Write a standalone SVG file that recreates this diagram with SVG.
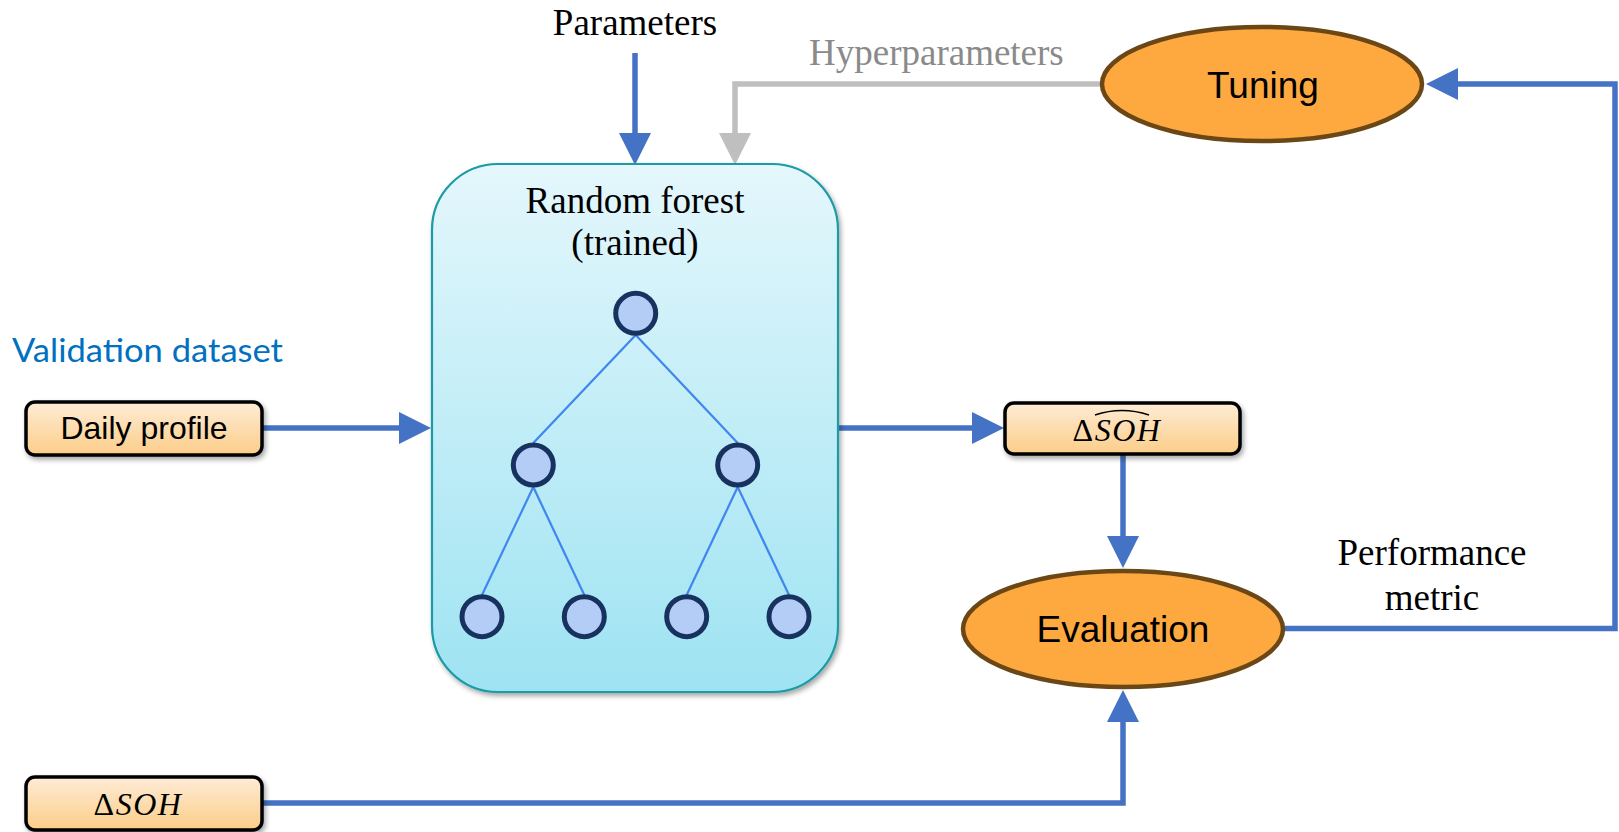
<svg xmlns="http://www.w3.org/2000/svg" width="1619" height="832" viewBox="0 0 1619 832">
  <defs>
    <linearGradient id="peach" x1="0" y1="0" x2="0" y2="1">
      <stop offset="0" stop-color="#feecd6"/>
      <stop offset="1" stop-color="#fccd88"/>
    </linearGradient>
    <linearGradient id="aqua" x1="0" y1="0" x2="0" y2="1">
      <stop offset="0" stop-color="#e4f7fc"/>
      <stop offset="1" stop-color="#9ee3f2"/>
    </linearGradient>
    <filter id="shadow" x="-10%" y="-10%" width="125%" height="135%">
      <feDropShadow dx="2" dy="3" stdDeviation="2.5" flood-color="#000" flood-opacity="0.35"/>
    </filter>
    <marker id="head-blue" markerUnits="userSpaceOnUse" markerWidth="33" markerHeight="33" refX="1" refY="16" orient="auto">
      <path d="M0,0 L32,16 L0,32 z" fill="#4472c4"/>
    </marker>
    <marker id="head-gray" markerUnits="userSpaceOnUse" markerWidth="33" markerHeight="33" refX="1" refY="16" orient="auto">
      <path d="M0,0 L32,16 L0,32 z" fill="#bfbfbf"/>
    </marker>
  </defs>
  <style>
    .serif { font-family: "Liberation Serif", "Times New Roman", serif; font-size: 37px; fill: #000; }
    .sans { font-family: "Liberation Sans", Arial, sans-serif; fill: #000; }
    .math { font-family: "Liberation Serif", "Times New Roman", serif; font-size: 32px; fill: #000; }
    .tag { fill: url(#peach); stroke: #000; stroke-width: 3.5; filter: url(#shadow); }
    .oval { fill: #fea940; stroke: #6b4716; stroke-width: 4.5; }
    .leaf { fill: #b3cdf6; stroke: #17325f; stroke-width: 5; }
    .branch { stroke: #3f86f0; stroke-width: 2.2; fill: none; }
    .wire { fill: none; stroke: #4472c4; stroke-width: 5.5; marker-end: url(#head-blue); }
    .wire-gray { fill: none; stroke: #bfbfbf; stroke-width: 5.5; marker-end: url(#head-gray); }
  </style>

  <rect width="1619" height="832" fill="#fff"/>

  <!-- free-standing labels -->
  <text id="label-parameters" class="serif" x="635" y="35" text-anchor="middle">Parameters</text>
  <text id="label-hyperparameters" class="serif" x="809" y="65" style="fill:#8a8a8a">Hyperparameters</text>
  <text id="label-validation" x="12" y="362" font-family="Lato, 'Open Sans', sans-serif" font-size="33" fill="#0070c0" textLength="271" lengthAdjust="spacingAndGlyphs">Validation dataset</text>
  <g id="label-performance" text-anchor="middle">
    <text class="serif" x="1432" y="565">Performance</text>
    <text class="serif" x="1432" y="610">metric</text>
  </g>

  <!-- connectors -->
  <g id="connectors">
    <path class="wire" d="M635,53 V134"/>
    <path class="wire-gray" d="M1101,84 H735 V134"/>
    <path class="wire" d="M262,428 H400"/>
    <path class="wire" d="M838,428 H973"/>
    <path class="wire" d="M1123,455 V537"/>
    <path class="wire" d="M262,803 H1123 V721"/>
    <path class="wire" d="M1285,628.5 H1615 V84 H1457"/>
  </g>

  <!-- random forest model -->
  <g id="random-forest">
    <rect x="432" y="164" width="406" height="528" rx="66" ry="66" fill="url(#aqua)" stroke="#1b9aa6" stroke-width="2.2" filter="url(#shadow)"/>
    <text class="serif" x="635" y="213" text-anchor="middle">Random forest</text>
    <text class="serif" x="635" y="255" text-anchor="middle">(trained)</text>
    <g id="tree-branches">
      <line class="branch" x1="635.7" y1="335" x2="533.3" y2="443"/>
      <line class="branch" x1="635.7" y1="335" x2="737.7" y2="443"/>
      <line class="branch" x1="533.3" y1="487" x2="482" y2="595"/>
      <line class="branch" x1="533.3" y1="487" x2="584.3" y2="595"/>
      <line class="branch" x1="737.7" y1="487" x2="686.7" y2="595"/>
      <line class="branch" x1="737.7" y1="487" x2="789" y2="595"/>
    </g>
    <g id="tree-nodes">
      <circle class="leaf" cx="635.7" cy="313.3" r="20"/>
      <circle class="leaf" cx="533.3" cy="465" r="20"/>
      <circle class="leaf" cx="737.7" cy="465" r="20"/>
      <circle class="leaf" cx="482" cy="616.7" r="20"/>
      <circle class="leaf" cx="584.3" cy="616.7" r="20"/>
      <circle class="leaf" cx="686.7" cy="616.7" r="20"/>
      <circle class="leaf" cx="789" cy="616.7" r="20"/>
    </g>
  </g>

  <!-- input: daily profile -->
  <g id="daily-profile">
    <rect class="tag" x="26" y="402" width="236" height="53" rx="9"/>
    <text class="sans" x="144" y="439" font-size="32" text-anchor="middle">Daily profile</text>
  </g>

  <!-- predicted delta SOH -->
  <g id="soh-predicted">
    <rect class="tag" x="1005" y="403" width="235" height="51" rx="9"/>
    <text class="math" x="1117" y="441" text-anchor="middle" letter-spacing="1.5">Δ<tspan font-style="italic">SOH</tspan></text>
    <path d="M1095,415 Q1122,406 1149,415" fill="none" stroke="#000" stroke-width="1.6"/>
  </g>

  <!-- measured delta SOH -->
  <g id="soh-measured">
    <rect class="tag" x="26" y="777" width="236" height="53" rx="9"/>
    <text class="math" x="138" y="815" text-anchor="middle" letter-spacing="1.5">Δ<tspan font-style="italic">SOH</tspan></text>
  </g>

  <!-- evaluation step -->
  <g id="evaluation">
    <ellipse class="oval" cx="1123" cy="629" rx="160" ry="58"/>
    <text class="sans" x="1123" y="642" font-size="37" text-anchor="middle">Evaluation</text>
  </g>

  <!-- tuning step -->
  <g id="tuning">
    <ellipse class="oval" cx="1262" cy="84" rx="160" ry="57"/>
    <text class="sans" x="1263" y="98" font-size="37" text-anchor="middle">Tuning</text>
  </g>
</svg>
